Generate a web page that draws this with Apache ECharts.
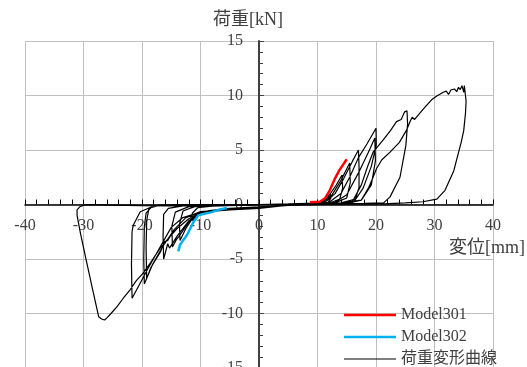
<!DOCTYPE html>
<html><head><meta charset="utf-8">
<script src="https://cdn.jsdelivr.net/npm/echarts@6/dist/echarts.min.js"></script>
<style>html,body{margin:0;padding:0;background:#fff}#c{width:527px;height:367px}</style>
</head><body><div id="c"></div>
<script>
// x: displacement [mm], y: load [kN]
const xTicks = [-40, -30, -20, -10, 0, 10, 20, 30, 40];
const yTicks = [-15, -10, -5, 0, 5, 10, 15];
const seriesNames = ['Model301', 'Model302', '荷重変形曲線'];

const model301 = [[8.7,0.2],[10.4,0.25],[11.3,0.57],[12.1,1.3],[13.0,2.4],[13.8,3.2],[15.0,4.15]];
const model302 = [[-5.5,-0.32],[-6.7,-0.45],[-8.1,-0.7],[-10.4,-1.0],[-11.2,-1.6],[-12.3,-2.8],[-13.5,-3.7],[-13.8,-4.3]];

const cycle1 = [[0,0],[4,0.03],[8,0.08],[10,0.15],[11.2,0.4],[12.2,1.0],[12.3,0.6],[11.8,0.2],[10,0.05],[5,-0.05],[0,-0.22],[-5,-0.35],[-8.5,-0.55],[-10.3,-0.85],[-11.3,-1.5],[-11.4,-0.8],[-10.5,-0.3],[-8,-0.15],[-4,-0.08],[0,-0.02]];
const cycle2 = [[5,0.04],[10,0.12],[11,0.3],[12,0.85],[13.1,1.7],[14.2,2.7],[14.3,1.5],[13.8,0.5],[12,0.12],[10,0.04],[5,-0.06],[0,-0.25],[-5,-0.4],[-10,-0.72],[-11.5,-1.4],[-12.5,-2.2],[-13.5,-3.3],[-13.6,-1.8],[-13,-0.6],[-11,-0.2],[-8,-0.1],[-3,-0.05],[0,0]];
const cycle3 = [[5,0.05],[10,0.12],[11,0.25],[12.5,0.9],[14,2.2],[15.5,3.8],[15.6,2.0],[15,0.6],[13,0.15],[10,0.05],[5,-0.06],[0,-0.28],[-5,-0.42],[-10,-0.75],[-12,-1.6],[-13.5,-2.8],[-14.1,-3.2],[-14.8,-3.9],[-14.9,-2.0],[-14.3,-0.7],[-12,-0.2],[-8,-0.1],[0,0]];
const cycle4 = [[10,0.1],[11.5,0.3],[13,1.0],[14.5,2.4],[16,4.0],[17,5.0],[17.1,3.5],[17.1,1.6],[16.5,0.5],[14,0.15],[10,0.05],[5,-0.06],[0,-0.3],[-5,-0.45],[-10,-0.75],[-12,-1.5],[-14,-2.9],[-15.3,-4.0],[-15.6,-3.6],[-16.3,-5.0],[-16.4,-3.0],[-16.3,-0.9],[-15.5,-0.35],[-13,-0.12],[-8,-0.06],[0,0]];
const cycle5 = [[10,0.1],[12,0.2],[14,1.0],[15.5,2.5],[17,4.3],[18.5,5.6],[20,7.0],[20.05,5.5],[19.2,3.5],[17.8,1.5],[16.3,0.3],[14,0.12],[10,0.05],[5,-0.05],[0,-0.32],[-5,-0.45],[-10,-0.65],[-12.5,-1.2],[-14.5,-2.3],[-16.5,-3.9],[-18.2,-5.5],[-19.6,-7.3],[-19.7,-5.0],[-19.6,-2.0],[-19.3,-0.8],[-18.5,-0.3],[-16.9,-0.06],[-10,-0.04],[0,0]];
const cycle6 = [[10,0.08],[13,0.2],[15,0.9],[17,2.9],[18.7,4.8],[19.8,6.1],[19.9,4.0],[19.2,1.8],[17.5,0.4],[14,0.12],[10,0.04],[5,-0.06],[0,-0.35],[-5,-0.48],[-10,-0.7],[-12.5,-1.2],[-14.5,-2.3],[-15.6,-3.3],[-16.2,-3.4],[-16.8,-4.3],[-18.5,-5.8],[-19.2,-6.8],[-19.3,-4.0],[-19.2,-1.5],[-18.8,-0.3],[-17,-0.05],[-10,-0.03],[0,0]];
const cycle7 = [[10,0.06],[14,0.15],[16,0.3],[17.5,1.8],[18.5,3.4],[19.5,4.8],[21.2,5.9],[22.5,6.8],[23.5,7.6],[24.3,7.8],[24.9,8.5],[25.3,8.6],[25.4,7.4],[25.1,5.4],[24.1,2.5],[22.4,0.7],[21.3,0.15],[18,0.1],[14,0.05],[10,0.02],[5,-0.06],[0,-0.35],[-5,-0.5],[-10,-0.7],[-13,-1.2],[-15,-2.1],[-16.9,-3.9],[-19,-5.9],[-20.5,-7.4],[-21.7,-8.6],[-21.8,-5.5],[-21.7,-2.5],[-21.5,-1.9],[-20.3,-0.66],[-18,-0.14],[-15,-0.04],[-10,-0.02],[0,0]];
const cycle8 = [[10,0.05],[15,0.1],[17.5,0.4],[18.7,1.5],[19.5,2.5],[20.1,3.3],[21,4.1],[22.4,4.8],[24,5.7],[25.2,6.8],[25.9,7.7],[26.2,8.0],[26.6,7.8],[28,8.7],[29.5,9.6],[30.4,9.95],[31.5,10.3],[32.0,10.4],[32.4,10.1],[32.8,10.5],[33.4,10.6],[33.8,10.35],[34.1,10.75],[34.4,10.55],[34.7,10.9],[35.0,10.3],[35.1,10.9],[35.4,10.95],[35.4,9.5],[35.3,8.4],[35.0,6.8],[34.6,5.8],[33.3,3.1],[31.8,1.3],[30.4,0.5],[28,0.25],[25,0.15],[21.3,0.06],[15,0.03],[10,0],[5,-0.08],[0,-0.3],[-5,-0.45],[-10,-0.75],[-12,-1.3],[-14,-2.2],[-15.5,-3.1],[-16.9,-4.0],[-18.5,-5.3],[-19.8,-6.3],[-21,-7.0],[-22,-7.8],[-23.2,-8.6],[-24.3,-9.4],[-25.3,-10.0],[-26,-10.4],[-26.4,-10.6],[-26.9,-10.5],[-27.4,-10.3],[-28.4,-7.9],[-29.5,-5.2],[-30.5,-2.7],[-31.1,-1.0],[-31.1,-0.5],[-30.6,-0.2],[-29.7,-0.02],[-25,-0.06],[-20,-0.1],[-15,-0.12],[-10,-0.12],[-5,-0.08],[0,-0.05]];

const loadCurve = [].concat(cycle1, cycle2, cycle3, cycle4, cycle5, cycle6, cycle7, cycle8);

const serif = "'Liberation Serif', 'Noto Sans CJK JP', serif";
const W = 527, H = 367;
const gridL = 25, gridR = 34, gridT = 41, gridB = -1;
const plotW = W - gridL - gridR, plotH = H - gridT - gridB;
// shift axes so they cross at the origin
const yAxisOffset = -plotW * (0 - xTicks[0]) / (xTicks[xTicks.length-1] - xTicks[0]);
const xAxisOffset = -plotH * (0 - yTicks[0]) / (yTicks[yTicks.length-1] - yTicks[0]);

function barIcon(th) {
  const a = 8 - th / 2, b = 8 + th / 2;
  return 'path://M0,0M52,16M0,' + a + 'L52,' + a + 'L52,' + b + 'L0,' + b + 'Z';
}

const chart = echarts.init(document.getElementById('c'), null, {renderer: 'canvas'});
chart.setOption({
  animation: false,
  backgroundColor: '#ffffff',
  grid: {left: gridL, right: gridR, top: gridT, bottom: gridB, containLabel: false, outerBoundsMode: 'none'},
  legend: {
    orient: 'vertical', left: 344, top: 307, padding: 0, height: 120,
    itemWidth: 52, itemHeight: 16, itemGap: 6,
    data: [
      {name: seriesNames[0], icon: barIcon(2.5)},
      {name: seriesNames[1], icon: barIcon(2.5)},
      {name: seriesNames[2], icon: barIcon(1.2)}
    ],
    textStyle: {fontFamily: serif, fontSize: 16, color: '#404040'}
  },
  xAxis: {
    type: 'value', min: xTicks[0], max: xTicks[xTicks.length - 1], interval: 10,
    position: 'bottom', offset: xAxisOffset,
    name: '変位[mm]', nameLocation: 'end', nameGap: 32,
    nameTextStyle: {fontFamily: serif, fontSize: 18, color: '#404040', align: 'right', verticalAlign: 'top', padding: [35, 0, 0, 0]},
    axisLine: {onZero: false, lineStyle: {color: '#000', width: 1.5}},
    axisTick: {show: true, inside: true, length: 5, lineStyle: {color: '#000'}},
    minorTick: {show: true, splitNumber: 5, length: 5, lineStyle: {color: '#000'}},
    axisLabel: {margin: 13, fontFamily: serif, fontSize: 16, color: '#404040'},
    splitLine: {show: true, lineStyle: {color: '#c0c0c0', width: 1}}
  },
  yAxis: {
    type: 'value', min: yTicks[0], max: yTicks[yTicks.length - 1], interval: 5,
    position: 'left', offset: yAxisOffset,
    name: '荷重[kN]', nameLocation: 'end', nameGap: 12,
    nameTextStyle: {fontFamily: serif, fontSize: 18, color: '#404040', align: 'center', verticalAlign: 'bottom', padding: [0, 22, 0, 0]},
    axisLine: {onZero: false, lineStyle: {color: '#404040', width: 2}},
    axisTick: {show: true, inside: true, length: 5, lineStyle: {color: '#404040'}},
    minorTick: {show: true, splitNumber: 5, length: 4, lineStyle: {color: '#404040'}},
    axisLabel: {margin: 16, fontFamily: serif, fontSize: 16, color: '#404040'},
    splitLine: {show: true, lineStyle: {color: '#c0c0c0', width: 1}}
  },
  series: [
    {name: seriesNames[2], type: 'line', data: loadCurve, symbol: 'none', smooth: false, z: 2,
     lineStyle: {color: '#000', width: 1.2}, itemStyle: {color: '#000'}},
    {name: seriesNames[0], type: 'line', data: model301, symbol: 'none', z: 3,
     lineStyle: {color: '#ff0000', width: 2.5}, itemStyle: {color: '#ff0000'}},
    {name: seriesNames[1], type: 'line', data: model302, symbol: 'none', z: 3,
     lineStyle: {color: '#00b0f0', width: 2.5}, itemStyle: {color: '#00b0f0'}}
  ]
});
</script></body></html>
